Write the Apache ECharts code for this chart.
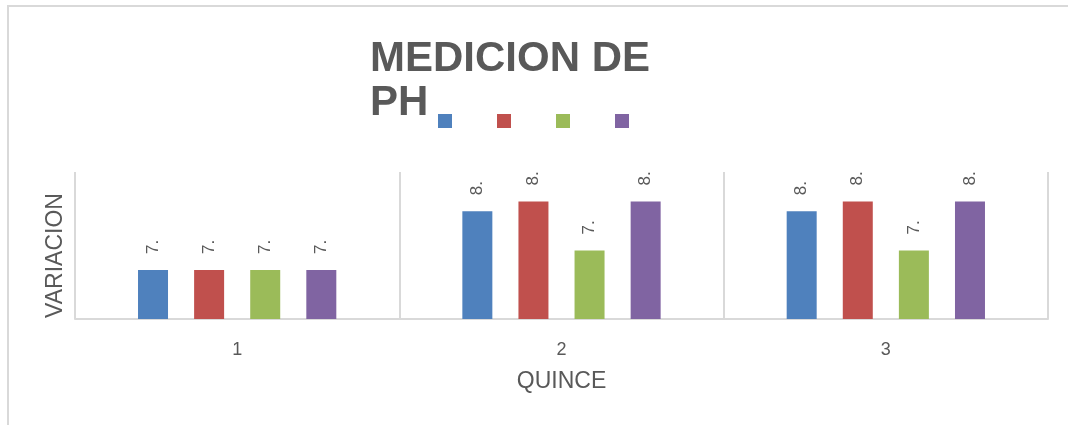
<!DOCTYPE html>
<html>
<head>
<meta charset="utf-8">
<script src="https://cdn.jsdelivr.net/npm/echarts@6/dist/echarts.min.js"></script>
<style>
html,body{margin:0;padding:0;background:#fff;}
#chart{width:1068px;height:425px;}
</style>
</head>
<body>
<div id="chart"></div>
<script>
var categories = ['1', '2', '3'];
var serie1 = [7.5, 8.1, 8.1];
var serie2 = [7.5, 8.2, 8.2];
var serie3 = [7.5, 7.7, 7.7];
var serie4 = [7.5, 8.2, 8.2];
var seriesNames = ['Serie1', 'Serie2', 'Serie3', 'Serie4'];
var colors = ['#4f81bd', '#c0504d', '#9bbb59', '#8064a2'];

var FONT = '"Liberation Sans", Arial, sans-serif';
var chart = echarts.init(document.getElementById('chart'));

function mkSeries(name, data, color) {
  return {
    name: name,
    type: 'bar',
    data: data,
    barWidth: 30,
    barGap: '87%',
    itemStyle: { color: color },
    label: {
      show: true,
      position: 'top',
      rotate: 90,
      align: 'left',
      verticalAlign: 'middle',
      distance: 16,
      fontFamily: FONT,
      fontSize: 17,
      color: '#595959',
      formatter: function (p) { return String(p.value).slice(0, 2); }
    }
  };
}

chart.setOption({
  animation: false,
  color: colors,
  title: {
    text: 'MEDICION DE\nPH',
    left: 365,
    top: 32,
    textStyle: {
      fontFamily: FONT,
      fontSize: 42,
      fontWeight: 'bold',
      color: '#595959',
      lineHeight: 44
    }
  },
  legend: {
    left: 433,
    top: 109,
    icon: 'rect',
    itemWidth: 14,
    itemHeight: 14,
    itemGap: 45,
    formatter: function () { return ''; },
    data: seriesNames
  },
  graphic: [{
    type: 'rect',
    shape: { x: 8, y: 6, width: 1200, height: 600 },
    style: { fill: 'none', stroke: '#d9d9d9', lineWidth: 2 },
    silent: true
  }],
  grid: { left: 75, right: 20, top: 172, bottom: 106 },
  xAxis: {
    type: 'category',
    data: categories,
    name: 'QUINCE',
    nameLocation: 'middle',
    nameGap: 51,
    nameTextStyle: { fontFamily: FONT, fontSize: 23, color: '#595959' },
    axisLine: { show: true, lineStyle: { color: '#d9d9d9', width: 2 } },
    axisTick: { show: false },
    axisLabel: { fontFamily: FONT, fontSize: 18, color: '#595959', margin: 22 },
    splitLine: { show: true, lineStyle: { color: '#d9d9d9', width: 2 } }
  },
  yAxis: {
    type: 'value',
    min: 7,
    max: 8.5,
    name: 'VARIACION',
    nameLocation: 'middle',
    nameGap: 8,
    nameRotate: 90,
    nameTextStyle: { fontFamily: FONT, fontSize: 23, color: '#595959', padding: [0, 20, 0, 0] },
    axisLine: { show: false },
    axisTick: { show: false },
    axisLabel: { show: false },
    splitLine: { show: false }
  },
  series: [
    mkSeries(seriesNames[0], serie1, colors[0]),
    mkSeries(seriesNames[1], serie2, colors[1]),
    mkSeries(seriesNames[2], serie3, colors[2]),
    mkSeries(seriesNames[3], serie4, colors[3])
  ]
});
</script>
</body>
</html>
